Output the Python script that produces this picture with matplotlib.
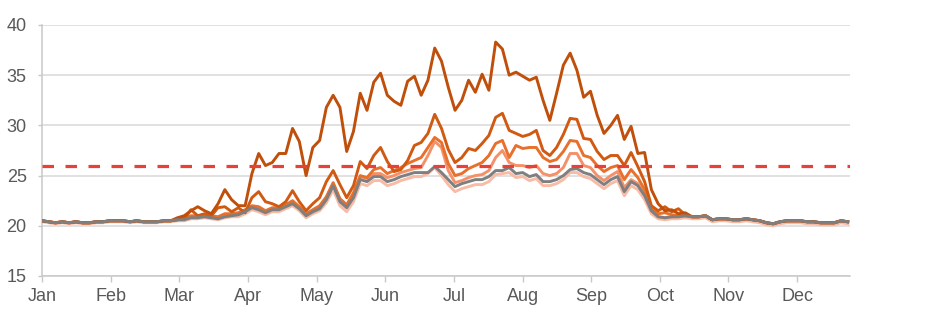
import matplotlib.pyplot as plt
import numpy as np

# daily temperature traces, sampled every 3 days from 1 Jan
months = ['Jan', 'Feb', 'Mar', 'Apr', 'May', 'Jun', 'Jul', 'Aug', 'Sep', 'Oct', 'Nov', 'Dec']
threshold = 26
day = np.arange(0, 360, 3)

gray = [20.5, 20.4, 20.3, 20.4, 20.3, 20.4, 20.3, 20.3, 20.4, 20.4, 20.5, 20.5, 20.5, 20.4, 20.5, 20.4, 20.4, 20.4, 20.5, 20.5, 20.6,
        20.6, 20.8, 20.8, 20.9, 20.8, 20.7, 20.9, 21.0, 21.1, 21.4, 21.8, 21.6, 21.3, 21.6, 21.6, 21.9, 22.2, 21.7, 21.0, 21.4, 21.7,
        22.6, 24.0, 22.4, 21.8, 22.8, 24.6, 24.4, 24.9, 24.9, 24.4, 24.6, 24.9, 25.1, 25.3, 25.3, 25.3, 25.9, 25.3, 24.6, 23.9, 24.2,
        24.4, 24.6, 24.6, 24.9, 25.5, 25.5, 25.8, 25.2, 25.3, 24.9, 25.1, 24.4, 24.4, 24.6, 25.0, 25.6, 25.7, 25.3, 25.1, 24.6, 24.1,
        24.6, 24.9, 23.4, 24.4, 24.0, 23.0, 21.5, 20.9, 20.8, 20.9, 20.9, 21.0, 20.9, 20.9, 21.0, 20.6, 20.7, 20.7, 20.6, 20.6, 20.7,
        20.6, 20.5, 20.3, 20.2, 20.4, 20.5, 20.5, 20.5, 20.4, 20.4, 20.3, 20.3, 20.3, 20.5, 20.4]

s1 = [20.5, 20.4, 20.3, 20.4, 20.3, 20.4, 20.3, 20.3, 20.4, 20.4, 20.5, 20.5, 20.5, 20.4, 20.5, 20.4, 20.4, 20.4, 20.5, 20.5, 20.8,
      21.0, 21.5, 21.9, 21.5, 21.2, 22.2, 23.6, 22.6, 22.0, 22.0, 25.2, 27.2, 26.0, 26.3, 27.2, 27.2, 29.7, 28.4, 25.0, 27.8, 28.5,
      31.8, 33.0, 31.8, 27.4, 29.4, 33.2, 31.5, 34.3, 35.2, 33.0, 32.4, 32.0, 34.4, 34.9, 33.0, 34.5, 37.7, 36.4, 33.8, 31.5, 32.5,
      34.5, 33.3, 35.1, 33.5, 38.3, 37.6, 35.0, 35.3, 34.9, 34.5, 34.8, 32.5, 30.5, 33.2, 36.0, 37.2, 35.5, 32.8, 33.4, 31.0, 29.2,
      30.0, 31.0, 28.6, 29.9, 27.2, 27.3, 23.6, 22.2, 21.5, 21.6, 21.2, 21.3, 20.9, 20.9, 21.0, 20.6, 20.7, 20.7, 20.6, 20.6, 20.7,
      20.6, 20.5, 20.3, 20.2, 20.4, 20.5, 20.5, 20.5, 20.4, 20.4, 20.3, 20.3, 20.3, 20.5, 20.4]

s2 = [20.5, 20.4, 20.3, 20.4, 20.3, 20.4, 20.3, 20.3, 20.4, 20.4, 20.5, 20.5, 20.5, 20.4, 20.5, 20.4, 20.4, 20.4, 20.5, 20.5, 20.6,
      20.7, 21.6, 21.0, 21.2, 21.0, 21.8, 21.9, 21.4, 21.8, 21.3, 22.8, 23.4, 22.4, 22.2, 21.9, 22.4, 23.5, 22.4, 21.5, 22.2, 22.8,
      24.4, 25.5, 24.1, 22.8, 24.0, 26.4, 25.7, 27.0, 27.8, 26.4, 25.4, 25.6, 26.5, 28.0, 28.3, 29.2, 31.1, 29.7, 27.6, 26.3, 26.8,
      27.7, 27.5, 28.2, 29.0, 30.8, 31.2, 29.5, 29.2, 28.9, 29.1, 29.5, 27.5, 27.0, 27.8, 29.1, 30.7, 30.6, 28.7, 28.6, 27.4, 26.6,
      27.0, 27.0, 26.0, 27.3, 25.9, 24.4, 22.0, 21.5, 21.9, 21.4, 21.7, 21.1, 20.9, 20.9, 21.0, 20.6, 20.7, 20.7, 20.6, 20.6, 20.7,
      20.6, 20.5, 20.3, 20.2, 20.4, 20.5, 20.5, 20.5, 20.4, 20.4, 20.3, 20.3, 20.3, 20.5, 20.4]

s3 = [20.5, 20.4, 20.3, 20.4, 20.3, 20.4, 20.3, 20.3, 20.4, 20.4, 20.5, 20.5, 20.5, 20.4, 20.5, 20.4, 20.4, 20.4, 20.5, 20.5, 20.6,
      20.8, 21.0, 21.0, 21.1, 21.0, 20.9, 21.2, 21.2, 21.3, 21.6, 22.0, 21.9, 21.5, 21.8, 21.8, 22.1, 22.5, 21.9, 21.2, 21.6, 22.0,
      22.9, 24.3, 22.7, 22.1, 23.3, 25.0, 24.8, 25.6, 25.8, 25.2, 25.5, 25.8, 26.2, 26.5, 26.8, 27.8, 28.8, 28.3, 26.2, 25.0, 25.2,
      25.7, 26.0, 26.3, 27.0, 28.2, 28.5, 26.8, 28.0, 27.7, 27.8, 27.8, 26.8, 26.4, 26.6, 27.4, 28.5, 28.4, 27.0, 26.8, 26.0, 25.4,
      25.8, 26.0, 24.6, 25.6, 24.8, 23.6, 21.8, 21.2, 21.3, 21.1, 21.0, 21.0, 20.9, 20.9, 21.0, 20.6, 20.7, 20.7, 20.6, 20.6, 20.7,
      20.6, 20.5, 20.3, 20.2, 20.4, 20.5, 20.5, 20.5, 20.4, 20.4, 20.3, 20.3, 20.3, 20.5, 20.4]

s4 = [20.5, 20.4, 20.3, 20.4, 20.3, 20.4, 20.3, 20.3, 20.4, 20.4, 20.5, 20.5, 20.5, 20.4, 20.5, 20.4, 20.4, 20.4, 20.5, 20.5, 20.6,
      20.7, 20.9, 20.9, 21.0, 20.9, 20.8, 21.0, 21.1, 21.2, 21.5, 21.9, 21.7, 21.4, 21.7, 21.7, 22.0, 22.3, 21.8, 21.1, 21.5, 21.8,
      22.8, 24.2, 22.6, 22.0, 23.0, 24.9, 24.7, 25.2, 25.2, 24.8, 25.0, 25.3, 25.5, 25.7, 25.8, 27.0, 28.4, 27.8, 25.5, 24.3, 24.5,
      24.8, 25.0, 25.1, 25.5, 26.8, 27.5, 26.3, 26.0, 26.0, 25.8, 26.0, 25.2, 25.0, 25.2, 25.8, 27.2, 27.2, 26.0, 25.8, 25.0, 24.5,
      25.0, 25.4, 23.8, 24.6, 24.2, 23.2, 21.5, 20.9, 20.8, 20.9, 20.9, 21.0, 20.9, 20.9, 21.0, 20.6, 20.7, 20.7, 20.6, 20.6, 20.7,
      20.6, 20.5, 20.3, 20.2, 20.4, 20.5, 20.5, 20.5, 20.4, 20.4, 20.3, 20.3, 20.3, 20.5, 20.4]

s5 = [20.4, 20.3, 20.2, 20.3, 20.2, 20.3, 20.2, 20.2, 20.3, 20.3, 20.4, 20.4, 20.4, 20.3, 20.4, 20.3, 20.3, 20.3, 20.4, 20.4, 20.5,
      20.5, 20.7, 20.7, 20.8, 20.7, 20.6, 20.8, 20.9, 20.9, 21.2, 21.6, 21.4, 21.1, 21.4, 21.4, 21.7, 22.0, 21.5, 20.8, 21.2, 21.5,
      22.3, 23.6, 22.0, 21.4, 22.4, 24.2, 24.0, 24.5, 24.5, 24.0, 24.2, 24.5, 24.7, 24.9, 24.9, 25.2, 25.8, 25.0, 24.1, 23.4, 23.7,
      23.9, 24.1, 24.1, 24.4, 25.1, 25.2, 25.3, 24.8, 24.9, 24.5, 24.7, 24.0, 24.0, 24.2, 24.6, 25.3, 25.3, 24.9, 24.7, 24.2, 23.7,
      24.2, 24.5, 23.0, 24.0, 23.6, 22.6, 21.2, 20.7, 20.6, 20.7, 20.7, 20.8, 20.7, 20.7, 20.8, 20.4, 20.5, 20.5, 20.4, 20.4, 20.5,
      20.4, 20.3, 20.1, 20.0, 20.2, 20.3, 20.3, 20.3, 20.2, 20.2, 20.1, 20.1, 20.1, 20.3, 20.2]

plt.rcParams['font.family'] = ['Liberation Sans', 'DejaVu Sans']

fig = plt.figure(figsize=(9.53, 3.25), dpi=100)
ax = fig.add_axes([0.0441, 0.1508, 0.8478, 0.7723])

series = [(s5, '#f7bba6'), (s4, '#f4916a'), (s3, '#e8702c'), (s2, '#d05a12'), (s1, '#bf4f0b'), (gray, '#7f7f7f')]
for vals, col in series:
    ax.plot(day, vals, color=col, lw=2.1, solid_joinstyle='round', zorder=3)

ax.axhline(threshold, color='#e8413a', lw=2.3, dashes=(3.6, 3.6), zorder=5)

ax.set_xlim(0, 358)
ax.set_ylim(15, 40)
ax.set_yticks(range(15, 41, 5))
ax.set_xticks(np.arange(12) * 365 / 12)
ax.set_xticklabels(months)
ax.yaxis.grid(True, color='#d9d9d9', lw=1.1, zorder=0)

for side in ['top', 'right']:
    ax.spines[side].set_visible(False)
for side in ['left', 'bottom']:
    ax.spines[side].set_color('#c8c8c8')
    ax.spines[side].set_linewidth(1.1)

ax.tick_params(axis='x', length=4, width=1, color='#c8c8c8', labelsize=13, labelcolor='#595959', pad=5)
ax.tick_params(axis='y', length=3, width=1, color='#c8c8c8', labelsize=13, labelcolor='#595959', pad=8)

fig.savefig('out.png', dpi=100)
